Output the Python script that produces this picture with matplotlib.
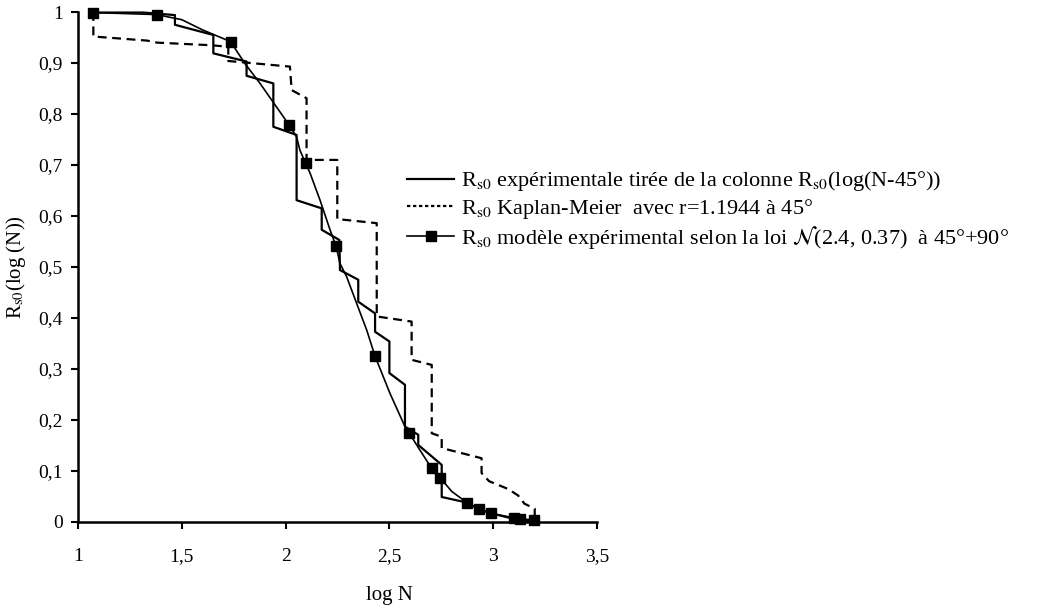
import matplotlib
matplotlib.use('Agg')
import matplotlib.pyplot as plt
from matplotlib.lines import Line2D

plt.rcParams['font.family'] = ['Liberation Serif', 'DejaVu Serif']
plt.rcParams['mathtext.fontset'] = 'stix'

# courbe expérimentale (ligne brisée)
exp_x = [1.074, 1.315, 1.467, 1.467, 1.652, 1.652, 1.812, 1.812, 1.941, 1.941,
         2.053, 2.053, 2.174, 2.174, 2.259, 2.262, 2.35, 2.35, 2.431, 2.431,
         2.50, 2.50, 2.575, 2.575, 2.639, 2.639, 2.752, 2.752, 2.863, 2.934,
         2.99, 3.10, 3.20]
exp_y = [0.999, 0.999, 0.994, 0.975, 0.955, 0.919, 0.903, 0.875, 0.860, 0.775,
         0.759, 0.631, 0.615, 0.573, 0.553, 0.494, 0.475, 0.432, 0.409, 0.373,
         0.354, 0.292, 0.269, 0.187, 0.171, 0.151, 0.112, 0.049, 0.039, 0.025,
         0.017, 0.006, 0.0]

# Kaplan-Meier (pointillés)
km_x = [1.074, 1.074, 1.333, 1.381, 1.636, 1.724, 1.724, 2.021, 2.029, 2.101,
        2.101, 2.249, 2.249, 2.439, 2.439, 2.607, 2.607, 2.704, 2.704, 2.752,
        2.752, 2.944, 2.944, 2.98, 3.07, 3.12, 3.15, 3.20, 3.20]
km_y = [1.0, 0.952, 0.944, 0.940, 0.935, 0.932, 0.904, 0.893, 0.847, 0.831,
        0.710, 0.710, 0.594, 0.586, 0.403, 0.393, 0.318, 0.308, 0.174, 0.167,
        0.145, 0.125, 0.096, 0.080, 0.065, 0.052, 0.036, 0.026, 0.0]

# modèle N(2.4, 0.37)
mod_x = [1.074, 1.379, 1.50, 1.60, 1.735, 1.804, 1.877, 2.018, 2.053, 2.069,
         2.097, 2.118, 2.166, 2.214, 2.243, 2.262, 2.294, 2.342, 2.391, 2.431,
         2.503, 2.575, 2.596, 2.647, 2.704, 2.744, 2.80, 2.873, 2.934, 2.99,
         3.10, 3.13, 3.196]
mod_y = [0.999, 0.995, 0.985, 0.965, 0.942, 0.899, 0.860, 0.778, 0.755, 0.729,
         0.703, 0.684, 0.631, 0.573, 0.541, 0.507, 0.481, 0.429, 0.376, 0.325,
         0.252, 0.187, 0.174, 0.141, 0.105, 0.087, 0.060, 0.038, 0.025, 0.017,
         0.008, 0.006, 0.004]
mod_marks = [0, 1, 4, 7, 10, 14, 19, 22, 24, 25, 27, 28, 29, 30, 31, 32]

x_ticks = [1, 1.5, 2, 2.5, 3, 3.5]
x_labels = ['1', '1,5', '2', '2,5', '3', '3,5']
y_ticks = [0, 0.1, 0.2, 0.3, 0.4, 0.5, 0.6, 0.7, 0.8, 0.9, 1]
y_labels = ['0', '0,1', '0,2', '0,3', '0,4', '0,5', '0,6', '0,7', '0,8', '0,9', '1']

lab_exp = r'R$_{\rm s0}$ expérimentale tirée de la colonne R$_{\rm s0}$(log(N-45°))'
lab_km = r'R$_{\rm s0}$ Kaplan-Meier  avec r=1.1944 à 45°'
lab_mod = r'R$_{\rm s0}$ modèle expérimental selon la loi $\mathcal{N}$(2.4, 0.37)  à 45°+90°'

fig = plt.figure(figsize=(10.37, 6.11), dpi=100)
ax = fig.add_axes([0.0752, 0.1457, 0.5005, 0.8346])

l1, = ax.plot(exp_x, exp_y, color='black', lw=1.6, clip_on=False)
l2, = ax.plot(km_x, km_y, color='black', lw=1.6, ls=(0, (4, 2.5)), clip_on=False)
l3, = ax.plot(mod_x, mod_y, color='black', lw=1.2, marker='s', ms=7,
              markevery=mod_marks, clip_on=False)

ax.set_xlim(1, 3.5)
ax.set_ylim(0, 1)
ax.set_xticks(x_ticks)
ax.set_xticklabels(x_labels, fontsize=14)
ax.set_yticks(y_ticks)
ax.set_yticklabels(y_labels, fontsize=14)
ax.tick_params(axis='both', direction='out', length=5, width=1.5)
ax.tick_params(axis='x', pad=13.5)
ax.tick_params(axis='y', pad=6)
for s in ['top', 'right']:
    ax.spines[s].set_visible(False)
for s in ['left', 'bottom']:
    ax.spines[s].set_linewidth(1.8)

ax.set_xlabel('log N', fontsize=15)
ax.xaxis.set_label_coords(0.60, -0.125)
ax.set_ylabel(r'R$_{\rm s0}$(log (N))', fontsize=15)
ax.yaxis.set_label_coords(-0.096, 0.5)

# legende : pointillés courts comme dans l'original
h2 = Line2D([], [], color='black', lw=1.6, ls=(0, (1.5, 1.2)))
fig.legend([l1, h2, l3], [lab_exp, lab_km, lab_mod], loc='upper left',
           bbox_to_anchor=(0.382, 0.741), frameon=False, fontsize=16,
           handlelength=2.1, handletextpad=0.3, labelspacing=0.15, borderpad=0)

fig.savefig('out.png', dpi=100)
